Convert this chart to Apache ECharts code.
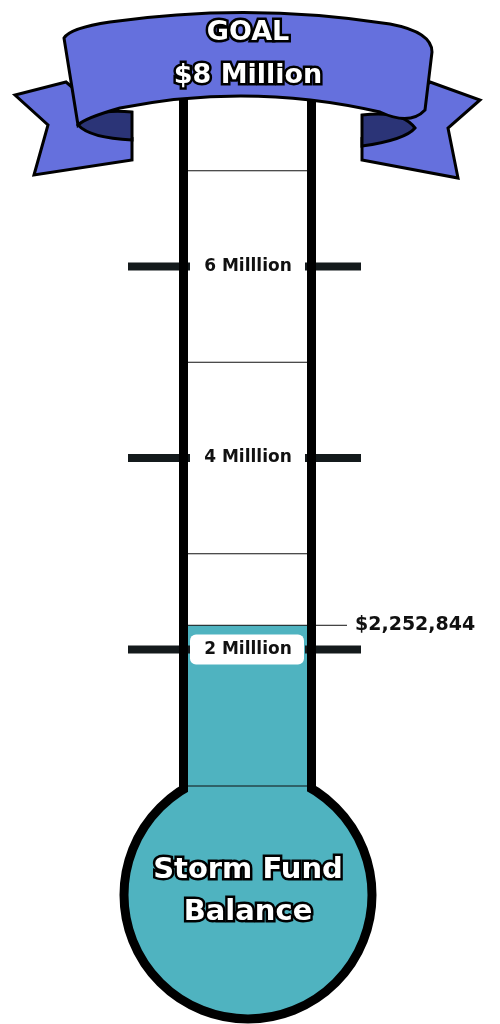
<!DOCTYPE html>
<html>
<head>
<meta charset="utf-8">
<script src="https://cdn.jsdelivr.net/npm/echarts@6/dist/echarts.min.js"></script>
<style>html,body{margin:0;padding:0;background:#fff}#chart{width:500px;height:1024px}</style>
</head>
<body>
<div id="chart"></div>
<script>
var goal = 8;
var balance = 2.252844;
var balanceLabel = '$2,252,844';
var tickValues = [2, 4, 6];
var tickLabels = ['2 Milllion', '4 Milllion', '6 Milllion'];
var sepValues = [3, 5, 7];

var myChart = echarts.init(document.getElementById('chart'));
var teal = '#4fb3c0';
var purple = '#6570dd';
var dark = '#2b3477';
var cx = 248;

var bannerPaths = [
    ['M66,82 L15,95 L48,125 L34,175 L132,160 L132,138 Z', purple],
    ['M430,82 L480,100 L448,128 L458,178 L362,160 L362,138 Z', purple],
    ['M78,125 Q90,138 132,140 L132,112 Q92,108 78,125 Z', dark],
    ['M415,128 Q405,140 362,146 L362,115 Q402,110 415,128 Z', dark],
    ['M64,38 Q70,28 110,22 Q250,2 390,24 Q432,32 432,52 L425,110 Q410,126 380,112 Q250,82 120,108 Q85,118 78,125 Z', purple]
];

var option = {
    animation: false,
    grid: { left: 188, right: 500 - 307, top: 75, bottom: 1024 - 841 },
    xAxis: { type: 'category', data: ['fund'], show: false },
    yAxis: { type: 'value', min: 0, max: goal, show: false },
    series: [{
        type: 'bar',
        data: [balance],
        barWidth: '100%',
        itemStyle: { color: teal },
        z: 3
    }, {
        type: 'custom',
        z: 4,
        data: sepValues.map(function (v) { return [0, v]; }),
        renderItem: function (params, api) {
            var y = api.coord([0, api.value(1)])[1];
            return { type: 'line', shape: { x1: 188, y1: y, x2: 307, y2: y }, style: { stroke: '#111', lineWidth: 1 } };
        }
    }, {
        type: 'custom',
        z: 6,
        data: tickValues.map(function (v, i) { return [0, v, i]; }),
        renderItem: function (params, api) {
            var v = api.value(1);
            var y = api.coord([0, v])[1];
            var onFill = v <= balance;
            return {
                type: 'group',
                children: [
                    { type: 'rect', shape: { x: 128, y: y - 4, width: 62, height: 8 }, style: { fill: '#141a1c' } },
                    { type: 'rect', shape: { x: 305, y: y - 4, width: 56, height: 8 }, style: { fill: '#141a1c' } },
                    { type: 'rect', shape: { x: 190, y: y - 15, width: 114, height: 30, r: 6 }, style: { fill: onFill ? '#fff' : 'rgba(255,255,255,0)' } },
                    { type: 'text', style: { x: cx, y: y, text: tickLabels[api.value(2)], align: 'center', verticalAlign: 'middle', font: 'bold 17px "DejaVu Sans"', fill: '#111' } }
                ]
            };
        }
    }, {
        type: 'custom',
        z: 6,
        data: [[0, balance]],
        renderItem: function (params, api) {
            var y = api.coord([0, api.value(1)])[1];
            return {
                type: 'group',
                children: [
                    { type: 'line', shape: { x1: 188, y1: y, x2: 347, y2: y }, style: { stroke: '#111', lineWidth: 1 } },
                    { type: 'text', style: { x: 355, y: y, text: balanceLabel, align: 'left', verticalAlign: 'middle', font: 'bold 19px "DejaVu Sans"', fill: '#111' } }
                ]
            };
        }
    }, {
        type: 'custom',
        z: 20,
        data: [[0, 0]],
        renderItem: function () {
            return {
                type: 'group',
                children: bannerPaths.map(function (b) {
                    return { type: 'path', shape: { pathData: b[0] }, style: { fill: b[1], stroke: '#000', lineWidth: 3 } };
                }).concat([
                    { type: 'text', style: { x: cx, y: 33, text: 'GOAL', align: 'center', verticalAlign: 'middle', font: 'bold 27px "DejaVu Sans"', fill: '#fff', stroke: '#000', lineWidth: 5 } },
                    { type: 'text', style: { x: cx, y: 76, text: '$8 Million', align: 'center', verticalAlign: 'middle', font: 'bold 27px "DejaVu Sans"', fill: '#fff', stroke: '#000', lineWidth: 5 } }
                ])
            };
        }
    }],
    graphic: [
        { type: 'circle', z: 1, shape: { cx: cx, cy: 895, r: 124 }, style: { fill: teal, stroke: '#000', lineWidth: 9 } },
        { type: 'rect', z: 2, shape: { x: 188, y: 100, width: 119, height: 690 }, style: { fill: '#fff' } },
        { type: 'rect', z: 7, shape: { x: 179, y: 100, width: 9, height: 690 }, style: { fill: '#000' } },
        { type: 'rect', z: 7, shape: { x: 307, y: 100, width: 9, height: 690 }, style: { fill: '#000' } },
        { type: 'line', z: 7, shape: { x1: 188, y1: 786, x2: 307, y2: 786 }, style: { stroke: '#111', lineWidth: 1 } },
        { type: 'text', z: 8, style: { x: cx, y: 870, text: 'Storm Fund', align: 'center', verticalAlign: 'middle', font: 'bold 29px "DejaVu Sans"', fill: '#fff', stroke: '#000', lineWidth: 5 } },
        { type: 'text', z: 8, style: { x: cx, y: 912, text: 'Balance', align: 'center', verticalAlign: 'middle', font: 'bold 29px "DejaVu Sans"', fill: '#fff', stroke: '#000', lineWidth: 5 } }
    ]
};

myChart.setOption(option);
</script>
</body>
</html>
